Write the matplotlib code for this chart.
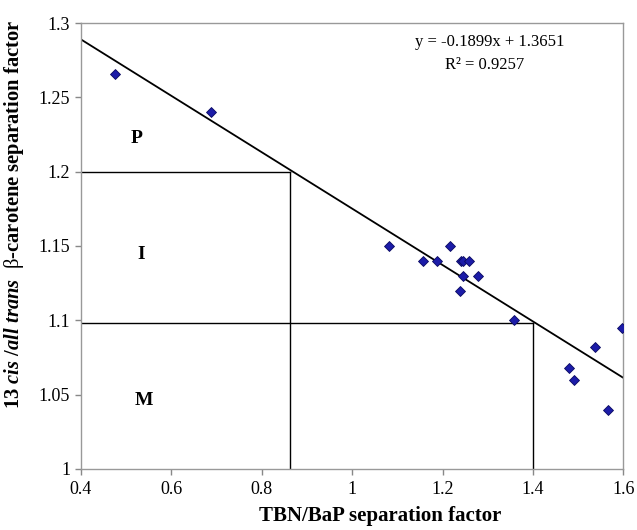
import numpy as np
import matplotlib
matplotlib.use("Agg")
import matplotlib.pyplot as plt

# data
tbn_bap = [0.476, 0.688, 1.081, 1.156, 1.188, 1.216, 1.240, 1.246, 1.258,
           1.246, 1.279, 1.238, 1.358, 1.596, 1.536, 1.479, 1.490, 1.566]
beta_car = [1.266, 1.240, 1.150, 1.140, 1.140, 1.150, 1.140, 1.140, 1.140,
            1.130, 1.130, 1.120, 1.100, 1.095, 1.082, 1.068, 1.060, 1.040]
slope = -0.1899
intercept = 1.3651
r2 = 0.9257
region_y_bounds = [1.2, 1.098]     # P/I and I/M limits on the y axis
region_x_bounds = [0.862, 1.400]   # where each limit meets the fit line
region_names = ["P", "I", "M"]
region_lab_x = [0.525, 0.533, 0.540]
region_lab_y = [1.222, 1.144, 1.046]
xticks = [0.4, 0.6, 0.8, 1.0, 1.2, 1.4, 1.6]
xticklabels = ["0.4", "0.6", "0.8", "1", "1.2", "1.4", "1.6"]
yticks = [1.0, 1.05, 1.1, 1.15, 1.2, 1.25, 1.3]
yticklabels = ["1", "1.05", "1.1", "1.15", "1.2", "1.25", "1.3"]

plt.rcParams['font.family'] = ['Liberation Serif', 'DejaVu Serif']
plt.rcParams['mathtext.fontset'] = 'custom'
plt.rcParams['mathtext.rm'] = 'Liberation Serif:bold'
plt.rcParams['mathtext.it'] = 'Liberation Serif:bold:italic'
plt.rcParams['mathtext.bf'] = 'Liberation Serif:bold'
plt.rcParams['mathtext.sf'] = 'Liberation Serif'   # plain weight for the beta

fig = plt.figure(figsize=(6.37, 5.30), dpi=100)
ax = fig.add_axes([0.1264, 0.1151, 0.8524, 0.8415])

# regression line
xl = np.array([0.4, 1.6])
ax.plot(xl, slope * xl + intercept, color='black', lw=1.3, zorder=2)

# region boundaries: horizontal to the fit line, then down to the x axis
for yb, xb in zip(region_y_bounds, region_x_bounds):
    ax.plot([0.4, xb], [yb, yb], color='black', lw=1.0, zorder=1)
    ax.plot([xb, xb], [yb, 1.0], color='black', lw=1.0, zorder=1)

ax.plot(tbn_bap, beta_car, linestyle='none', marker='D', ms=5.5,
        mfc='#1c1ca8', mec='#0a0a60', mew=0.6, zorder=3)

for name, xx, yy in zip(region_names, region_lab_x, region_lab_y):
    ax.text(xx, yy, name, fontsize=14, fontweight='bold', ha='center', va='center')

ax.text(0.754, 0.957, "y = %.4fx + %.4f" % (slope, intercept), transform=ax.transAxes,
        fontsize=12, ha='center', va='center')
ax.text(0.745, 0.906, "R² = %.4f" % r2, transform=ax.transAxes,
        fontsize=12, ha='center', va='center')

ax.set_xlim(0.4, 1.6)
ax.set_ylim(1.0, 1.3)
ax.set_xticks(xticks)
ax.set_xticklabels(xticklabels)
ax.set_yticks(yticks)
ax.set_yticklabels(yticklabels)
ax.tick_params(direction='out', length=4, width=1, color='#888888', labelsize=13)
ax.tick_params(axis='x', pad=5)

for sp in ax.spines.values():
    sp.set_color('#999999')
    sp.set_linewidth(1.0)

ax.set_xlabel("TBN/BaP separation factor", fontsize=15, fontweight='bold')
ax.xaxis.set_label_coords(0.551, -0.083)
ax.set_ylabel(r"13 $\mathit{cis\ /all\ trans}\ \ \mathsf{β}$-carotene separation factor",
              fontsize=14.8, fontweight='bold')
ax.yaxis.set_label_coords(-0.100, 0.57)

fig.savefig("out.png", dpi=100)
